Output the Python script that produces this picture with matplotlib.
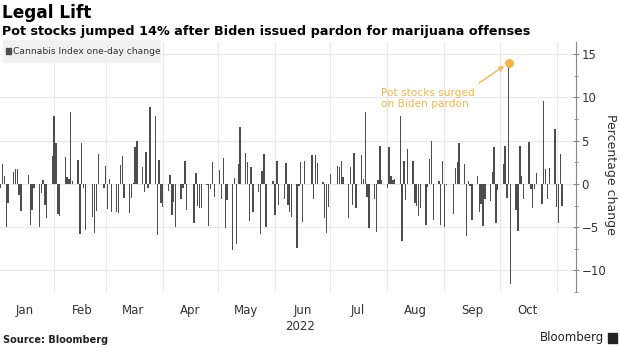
import pandas as pd
import matplotlib.pyplot as plt
import matplotlib.dates as mdates
from matplotlib.patches import Rectangle

# NYSE holidays in 2022 within the range
holidays = ["2022-01-17", "2022-02-21", "2022-04-15", "2022-05-30",
            "2022-06-20", "2022-07-04", "2022-09-05"]
start_date = "2022-01-03"
end_date = "2022-11-04"

# Cannabis index one-day change, %
changes = [
    -0.5, 2.3, 0.9, -5.0, -2.2, 1.4, 1.7, 1.7, -1.3, -3.1, 1.0, -4.7, -3.0, -0.5, -5.0, -1.0,
    0.4, -2.4, -4.0, 3.2, 7.9, 4.7, -3.5, -3.7, 3.1, 0.8, 0.6, 8.3, 0.3, 2.8, -5.8, 4.7,
    -0.5, -5.3, -3.8, -5.7, -3.1, 3.5,
    -0.5, 2.1, -2.9, 0.6, -3.2, -3.2, -3.4, 2.2, 3.2, -1.6, -3.4, -1.6, 0.1, 4.3, 5.0, 1.9,
    -0.9, 3.7, -0.5, 8.9, 7.8, -5.9, 2.8, -2.2, -2.7, -0.8, 1.0, -3.6, -2.1, -5.0, -1.8,
    -0.5, 2.7, -3.0, -4.5,
    1.3, -2.6, -2.8, -2.8, -0.1, -4.9, -0.6, 2.5, -1.5, 1.6, -1.7, 3.0, -5.1, -1.9, -7.6,
    0.7, -7.0, 2.3, 6.6, 3.6, 2.5, -4.3, 1.9, -3.2, -0.9, -5.8, 1.5, 3.5, -5.0, 0.3, -3.6,
    2.6, -2.4, -1.8, 2.4,
    -2.4, -3.3, -3.8, -7.4, -0.3, 2.5, -4.4, 2.6, 3.4, -1.7, 3.4, 2.4, 0.2, -3.9, -5.7,
    -2.7, 1.2, 2.1, 1.9, 2.7, 0.8, -4.0, 2.0, -2.4, 3.6, -2.8, 3.3, 0.6, 8.3, -1.5, -5.1,
    -1.8, -5.6, 0.5, 4.4, 0.5,
    -0.5, 4.3, 0.9, 0.5, 0.6, 7.8, -6.6, 2.6, -1.9, 4.0, 2.7, -2.2, -2.5, -3.7, -2.8, -4.8,
    -0.4, 2.9, 5.0, -4.2, 0.3, -4.7, 2.6, -5.0, -0.1, -3.5, 1.8, 2.5, 4.7, 2.3, -6.0, 0.3,
    -0.3, -4.2, 0.9, -3.3,
    -2.3, -4.9, -1.8, -2.0, 1.4, 4.3, -4.5, -0.7, 2.3, 4.4, -1.6, 14.0, -11.6, -3.0, -5.5,
    4.4, 0.9, -1.8, 4.8, -0.6, -2.8, -0.6, 1.3, -2.3, 9.6, 1.7, -1.8, 1.8, 6.4, -2.7, -4.5,
    3.5, -2.6,
]
pardon_day = "2022-10-06"

dates = pd.bdate_range(start_date, end_date, freq="C", holidays=holidays)
df = pd.DataFrame({"date": dates[:len(changes)], "change": changes[:len(dates)]})

orange = "#f5b547"
bar_color = "#4d4d4d"
grid_color = "#e8e8e8"
text_color = "#333333"

fig = plt.figure(figsize=(6.2, 3.48), dpi=100)
ax = fig.add_axes([0, 0.161, 0.929, 0.718])

ax.bar(df["date"], df["change"], width=0.75, color=bar_color, linewidth=0, zorder=3)

# highlight the pardon day
spike = df[df["date"] == pd.Timestamp(pardon_day)].iloc[0]
ax.scatter([spike["date"]], [spike["change"]], s=30, color=orange, zorder=4)
ax.annotate("Pot stocks surged\non Biden pardon",
            xy=(spike["date"], spike["change"]), xytext=(-92, -18),
            textcoords="offset points", color=orange, fontsize=7.6,
            ha="left", va="top", linespacing=1.2,
            arrowprops=dict(arrowstyle="->", color=orange, lw=1,
                            shrinkA=2, shrinkB=4,
                            relpos=(1.02, 1.15)))

ax.set_xlim(pd.Timestamp("2022-01-02 14:00"), pd.Timestamp("2022-11-11 12:00"))
ax.set_ylim(-12.5, 16.4)

ax.xaxis.set_major_locator(mdates.MonthLocator())
ax.xaxis.set_major_formatter(plt.NullFormatter())
ax.xaxis.set_minor_locator(mdates.MonthLocator(bymonthday=16))
ax.xaxis.set_minor_formatter(mdates.DateFormatter("%b"))
ax.tick_params(axis="x", which="both", length=0, pad=9, labelsize=8.5, labelcolor=text_color)

ax.yaxis.tick_right()
ax.yaxis.set_label_position("right")
ax.set_yticks([-10, -5, 0, 5, 10, 15])
ax.set_yticks([-12.5, -7.5, -2.5, 2.5, 7.5, 12.5], minor=True)
ax.tick_params(axis="y", which="major", length=4, direction="inout", color="#888888",
               labelsize=8.5, labelcolor=text_color, pad=2)
ax.tick_params(axis="y", which="minor", length=3, direction="inout", color="#888888")
ax.set_ylabel("Percentage change", fontsize=9, color=text_color, rotation=270, va="center")
ax.yaxis.set_label_coords(1.06, 0.47)

for s in ["top", "left", "bottom"]:
    ax.spines[s].set_visible(False)
ax.spines["right"].set_color("#888888")

ax.grid(True, which="major", color=grid_color, lw=0.8, zorder=0)
ax.set_axisbelow(True)

# legend box
fig.patches.append(Rectangle((3 / 620, 1 - 62 / 348), 157 / 620, 22 / 348,
                             transform=fig.transFigure, color="#f1f1f1", zorder=5))
fig.patches.append(Rectangle((6 / 620, 1 - 54 / 348), 5 / 620, 6 / 348,
                             transform=fig.transFigure, color=bar_color, zorder=6))
fig.text(13 / 620, 1 - 51 / 348, "Cannabis Index one-day change", fontsize=6.6,
         color=text_color, va="center", zorder=7)

fig.text(300 / 620, 1 - 327 / 348, "2022", fontsize=8.5, color=text_color, ha="center", va="center")

fig.text(2 / 620, 1 - 13 / 348, "Legal Lift", fontsize=12.2, fontweight="bold", va="center")
fig.text(2 / 620, 1 - 32 / 348, "Pot stocks jumped 14% after Biden issued pardon for marijuana offenses",
         fontsize=9.2, fontweight="bold", va="center")
fig.text(3 / 620, 1 - 340 / 348, "Source: Bloomberg", fontsize=7, fontweight="bold",
         color="#222222", va="center")
fig.text(604 / 620, 1 - 338 / 348, "Bloomberg", fontsize=8.5, color="#222222", ha="right", va="center")
fig.patches.append(Rectangle((608 / 620, 1 - 343 / 348), 9 / 620, 10 / 348,
                             transform=fig.transFigure, color="#222222"))

fig.savefig("out.png", dpi=100)
